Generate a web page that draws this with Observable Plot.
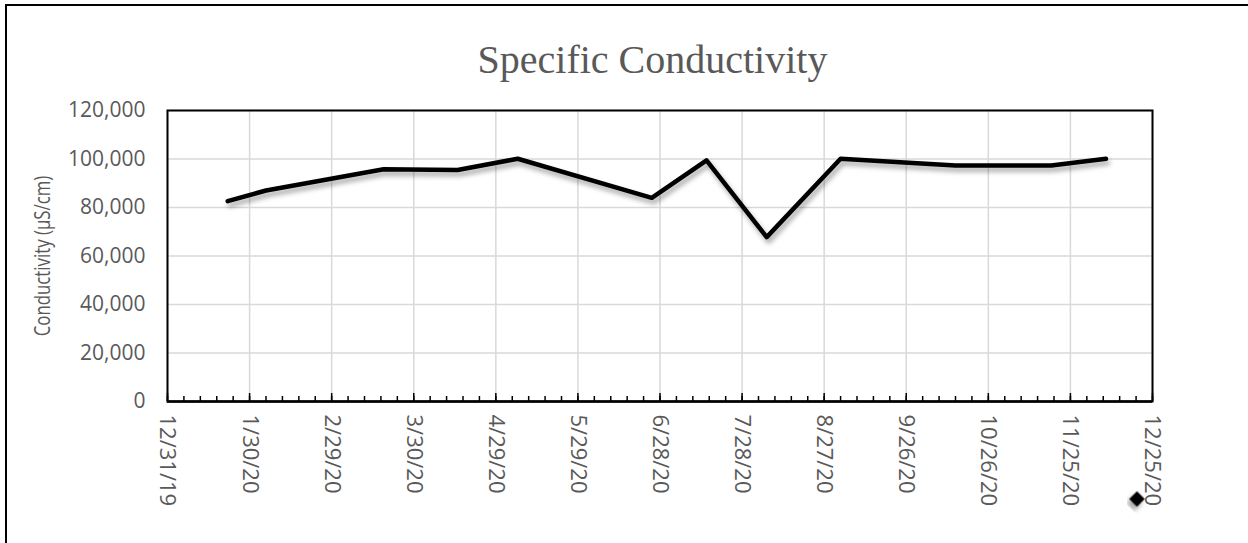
<!DOCTYPE html>
<html>
<head>
<meta charset="utf-8">
<script src="https://cdn.jsdelivr.net/npm/d3@7"></script>
<script src="https://cdn.jsdelivr.net/npm/@observablehq/plot@0.6"></script>
<style>
  html, body { margin: 0; padding: 0; background: #fff; width: 1248px; height: 543px; overflow: hidden; }
  #frame { position: absolute; left: 5px; top: 4px; width: 1400px; height: 700px; border: 2px solid #000; box-sizing: border-box; }
  #title { position: absolute; left: 0; width: 1305px; top: 40px; text-align: center; font-family: "Liberation Serif", "Times New Roman", serif; font-size: 40px; color: #595959; line-height: 1; }
  #ylabel { position: absolute; left: 42px; top: 256px; transform: translate(-50%, -50%) rotate(-90deg) scaleX(0.8); white-space: nowrap; font-family: "Open Sans", sans-serif; font-size: 21px; color: #595959; line-height: 1; }
  #chart { position: absolute; left: 0; top: 90px; }
  #legend { position: absolute; left: 1127px; top: 489px; }
</style>
</head>
<body>
<div id="frame"></div>
<div id="title">Specific Conductivity</div>
<div id="ylabel">Conductivity (µS/cm)</div>
<div id="chart"></div>
<div id="legend"></div>
<script>
// ---- data ----
const sampleDates = ["2020-01-22","2020-02-05","2020-03-19","2020-04-15","2020-05-07","2020-06-25","2020-07-15","2020-08-06","2020-09-02","2020-10-14","2020-11-18","2020-12-08"];
const conductivity = [82600, 87000, 95800, 95500, 100100, 84000, 99400, 67800, 100100, 97300, 97300, 100100];
const majorTickLabels = ["12/31/19","1/30/20","2/29/20","3/30/20","4/29/20","5/29/20","6/28/20","7/28/20","8/27/20","9/26/20","10/26/20","11/25/20","12/25/20"];
const yTicks = [0, 20000, 40000, 60000, 80000, 100000, 120000];
const minorStepDays = 6;

const parseLabel = d3.utcParse("%m/%d/%y");
const majorDates = majorTickLabels.map(parseLabel);
const xStart = majorDates[0], xEnd = majorDates[majorDates.length - 1];
const minorDates = d3.utcDay.range(xStart, d3.utcDay.offset(xEnd, 1)).filter((d, i) => i % minorStepDays === 0);
const data = sampleDates.map((d, i) => ({date: d3.utcParse("%Y-%m-%d")(d), value: conductivity[i]}));

const fmtDate = d3.utcFormat("%-m/%-d/%y");
const textColor = "#595959";
const font = "'Open Sans', sans-serif";

const plot = Plot.plot({
  width: 1248,
  height: 453,
  marginLeft: 167,
  marginRight: 96,
  marginTop: 20,
  marginBottom: 142,
  style: {fontFamily: font, fontSize: "21px", color: textColor, background: "transparent", overflow: "visible"},
  x: {type: "utc", domain: [xStart, xEnd]},
  y: {domain: [0, 120000]},
  marks: [
    Plot.gridX(majorDates, {stroke: "#d9d9d9", strokeOpacity: 1, strokeWidth: 1.5}),
    Plot.gridY(yTicks, {stroke: "#d9d9d9", strokeOpacity: 1, strokeWidth: 1.5}),
    Plot.frame({stroke: "#000", strokeWidth: 2}),
    Plot.axisX(minorDates, {tickSize: -5, text: null, stroke: "#000", strokeWidth: 1.5}),
    Plot.axisX(majorDates, {tickSize: -8, text: null, stroke: "#000", strokeWidth: 1.5}),
    Plot.axisX(majorDates, {tickSize: 0, tickPadding: 13, tickRotate: 90, tickFormat: fmtDate, fill: textColor, fontSize: 22, label: null}),
    Plot.axisY(yTicks, {tickSize: 0, tickPadding: 22, tickFormat: d3.format(","), fill: textColor, fontSize: 21, label: null}),
    Plot.ruleY([0], {stroke: "#000", strokeWidth: 2.5}),
    Plot.line(data, {x: "date", y: "value", stroke: "#000", strokeWidth: 4.5, strokeLinejoin: "round", strokeLinecap: "round"})
  ]
});

// drop shadow for the line
const ns = "http://www.w3.org/2000/svg";
const defs = document.createElementNS(ns, "defs");
defs.innerHTML = '<filter id="shadow" x="-10%" y="-10%" width="120%" height="140%"><feDropShadow dx="2" dy="4" stdDeviation="2.5" flood-color="#000" flood-opacity="0.35"/></filter>';
plot.insertBefore(defs, plot.firstChild);
const lineG = plot.querySelector('[aria-label="line"]');
if (lineG) lineG.setAttribute("filter", "url(#shadow)");
document.getElementById("chart").appendChild(plot);

// legend symbol (diamond marker)
document.getElementById("legend").innerHTML =
  '<svg width="24" height="28"><defs><filter id="sh2" x="-50%" y="-50%" width="200%" height="200%"><feDropShadow dx="1" dy="5" stdDeviation="2.5" flood-color="#000" flood-opacity="0.35"/></filter></defs>' +
  '<rect x="4.5" y="4.5" width="11" height="11" fill="#000" transform="rotate(45 10 10)" filter="url(#sh2)"/></svg>';
</script>
</body>
</html>
